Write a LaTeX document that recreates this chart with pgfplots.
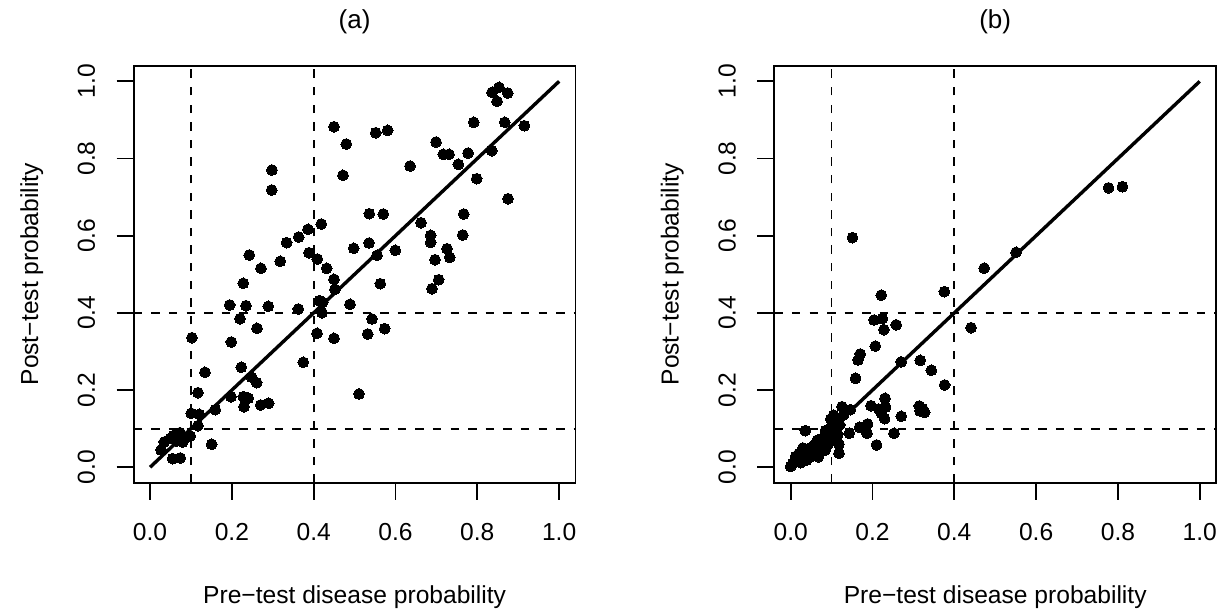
\documentclass[border=0pt]{standalone}
\usepackage{fontspec}
\setmainfont{Liberation Sans}
\usepackage{pgfplots}
\usepackage{pgfplotstable}
\pgfplotsset{compat=1.18}

\pgfplotstableread{
x y
0.4496 0.8824
0.4797 0.8376
0.2980 0.7702
0.2973 0.7184
0.4716 0.7565
0.4186 0.6303
0.3861 0.6166
0.3633 0.5966
0.3340 0.5819
0.4978 0.5674
0.2425 0.5500
0.3885 0.5560
0.4088 0.5396
0.3183 0.5337
0.2711 0.5155
0.4318 0.5155
0.4496 0.4870
0.8530 0.9845
0.8360 0.9715
0.8743 0.9697
0.8482 0.9482
0.7912 0.8938
0.8670 0.8938
0.9149 0.8850
0.5516 0.8668
0.5809 0.8730
0.6990 0.8427
0.7169 0.8109
0.7308 0.8109
0.7773 0.8142
0.8352 0.8202
0.7535 0.7850
0.6355 0.7806
0.7985 0.7477
0.8750 0.6959
0.5359 0.6570
0.5702 0.6562
0.7667 0.6562
0.6623 0.6337
0.6860 0.6010
0.6860 0.5829
0.7643 0.6018
0.5352 0.5811
0.5548 0.5492
0.5995 0.5622
0.7259 0.5663
0.7325 0.5440
0.6966 0.5378
0.5628 0.4756
0.7056 0.4860
0.6892 0.4627
0.5425 0.3842
0.5736 0.3591
0.5320 0.3453
0.5108 0.1899
0.4521 0.4611
0.2279 0.4767
0.1946 0.4205
0.2345 0.4187
0.2890 0.4171
0.3623 0.4101
0.4137 0.4316
0.4220 0.4275
0.4203 0.4005
0.4888 0.4223
0.2198 0.3850
0.2614 0.3601
0.1024 0.3358
0.1985 0.3246
0.4081 0.3472
0.4496 0.3342
0.3746 0.2720
0.2230 0.2591
0.1342 0.2461
0.2484 0.2332
0.2606 0.2192
0.1171 0.1933
0.1978 0.1829
0.2279 0.1829
0.2401 0.1788
0.2296 0.1570
0.2704 0.1614
0.2900 0.1658
0.1594 0.1492
0.1007 0.1399
0.1203 0.1373
0.1171 0.1078
0.0983 0.0811
0.0731 0.0896
0.0567 0.0819
0.0494 0.0751
0.0347 0.0655
0.0797 0.0655
0.0650 0.0680
0.0267 0.0448
0.0553 0.0223
0.0738 0.0241
0.1506 0.0596
}\dataA

\pgfplotstableread{
x y
0.1510 0.5950
0.4730 0.5160
0.5510 0.5570
0.7770 0.7240
0.8110 0.7270
0.2215 0.4460
0.3756 0.4550
0.2037 0.3816
0.2240 0.3850
0.2580 0.3690
0.2280 0.3565
0.4410 0.3617
0.2070 0.3140
0.1700 0.2935
0.1646 0.2780
0.2700 0.2730
0.3166 0.2770
0.3438 0.2513
0.1587 0.2306
0.3763 0.2132
0.2306 0.1788
0.1963 0.1596
0.1254 0.1570
0.1457 0.1492
0.2149 0.1510
0.2320 0.1560
0.2222 0.1399
0.2296 0.1259
0.2704 0.1321
0.3144 0.1588
0.3225 0.1518
0.3274 0.1425
0.3161 0.1459
0.1685 0.1036
0.1880 0.1122
0.1866 0.0881
0.2526 0.0881
0.2100 0.0578
0.1433 0.0881
0.0357 0.0948
0.1181 0.0363
0.1042 0.1295
0.1293 0.1355
0.000 0.002
0.005 0.010
0.010 0.015
0.012 0.028
0.018 0.020
0.020 0.035
0.025 0.012
0.028 0.030
0.030 0.022
0.032 0.040
0.035 0.028
0.038 0.018
0.040 0.045
0.042 0.033
0.045 0.025
0.048 0.050
0.050 0.038
0.052 0.030
0.055 0.055
0.058 0.042
0.060 0.035
0.062 0.060
0.065 0.048
0.068 0.040
0.070 0.068
0.072 0.055
0.075 0.045
0.078 0.075
0.080 0.062
0.082 0.052
0.085 0.080
0.088 0.068
0.090 0.058
0.092 0.090
0.095 0.075
0.098 0.100
0.100 0.085
0.102 0.110
0.105 0.095
0.108 0.070
0.110 0.120
0.112 0.100
0.115 0.085
0.118 0.060
0.120 0.110
0.098 0.125
0.105 0.135
0.085 0.095
0.065 0.070
0.030 0.050
0.036 0.019
0.068 0.027
0.085 0.045
}\dataB

\pgfplotsset{
  panel/.style={
    scale only axis,
    width=220.9pt, height=208.4pt,
    xmin=-0.04, xmax=1.04, ymin=-0.04, ymax=1.04,
    xtick={0,0.2,0.4,0.6,0.8,1.0},
    ytick={0,0.2,0.4,0.6,0.8,1.0},
    xtick pos=bottom, ytick pos=left,
    tick align=outside,
    major tick length=8.5pt,
    axis line style={line width=0.85pt, black},
    every tick/.style={line width=0.85pt, black},
    /pgf/number format/assume math mode=true,
    /pgf/number format/fixed,
    /pgf/number format/fixed zerofill,
    /pgf/number format/precision=1,
    tick label style={font=\fontsize{12.3}{14}\selectfont},
    xticklabel style={anchor=base, yshift=-20.15pt},
    yticklabel style={xshift=-10.85pt, rotate=90, anchor=base},
    label style={font=\fontsize{12.3}{14}\selectfont},
    xlabel style={at={(axis description cs:0.5,-0.2894)}, anchor=base},
    ylabel style={at={(axis description cs:-0.2166,0.5)}, anchor=base},
    title style={font=\fontsize{13}{15}\selectfont, at={(axis description cs:0.5,1.077)}, anchor=center},
    xlabel={Pre−test disease probability},
    ylabel={Post−test probability},
    clip=true,
  },
  refline/.style={black, line width=0.85pt, dash pattern=on 4.2pt off 4.6pt, forget plot},
  pts/.style={only marks, mark=*, mark size=2.7pt, black, mark options={fill=black, draw=black, line width=0pt}},
}

\begin{document}
\begin{tikzpicture}
\path[use as bounding box] (0,0) rectangle (612.5pt,307.5pt);

\begin{axis}[panel, at={(66.85pt,66.15pt)}, anchor=south west, title={(a)}]
\addplot[refline] coordinates {(0.1,-0.04) (0.1,1.04)};
\addplot[refline] coordinates {(0.4,-0.04) (0.4,1.04)};
\addplot[refline] coordinates {(-0.04,0.1) (1.04,0.1)};
\addplot[refline] coordinates {(-0.04,0.4) (1.04,0.4)};
\addplot[pts] table[x=x,y=y] {\dataA};
\addplot[black, line width=1.7pt] coordinates {(0,0) (1,1)};
\end{axis}

\begin{axis}[panel, at={(387.15pt,66.15pt)}, anchor=south west, title={(b)}]
\addplot[refline] coordinates {(0.1,-0.04) (0.1,1.04)};
\addplot[refline] coordinates {(0.4,-0.04) (0.4,1.04)};
\addplot[refline] coordinates {(-0.04,0.1) (1.04,0.1)};
\addplot[refline] coordinates {(-0.04,0.4) (1.04,0.4)};
\addplot[pts] table[x=x,y=y] {\dataB};
\addplot[black, line width=1.7pt] coordinates {(0,0) (1,1)};
\end{axis}
\end{tikzpicture}
\end{document}
